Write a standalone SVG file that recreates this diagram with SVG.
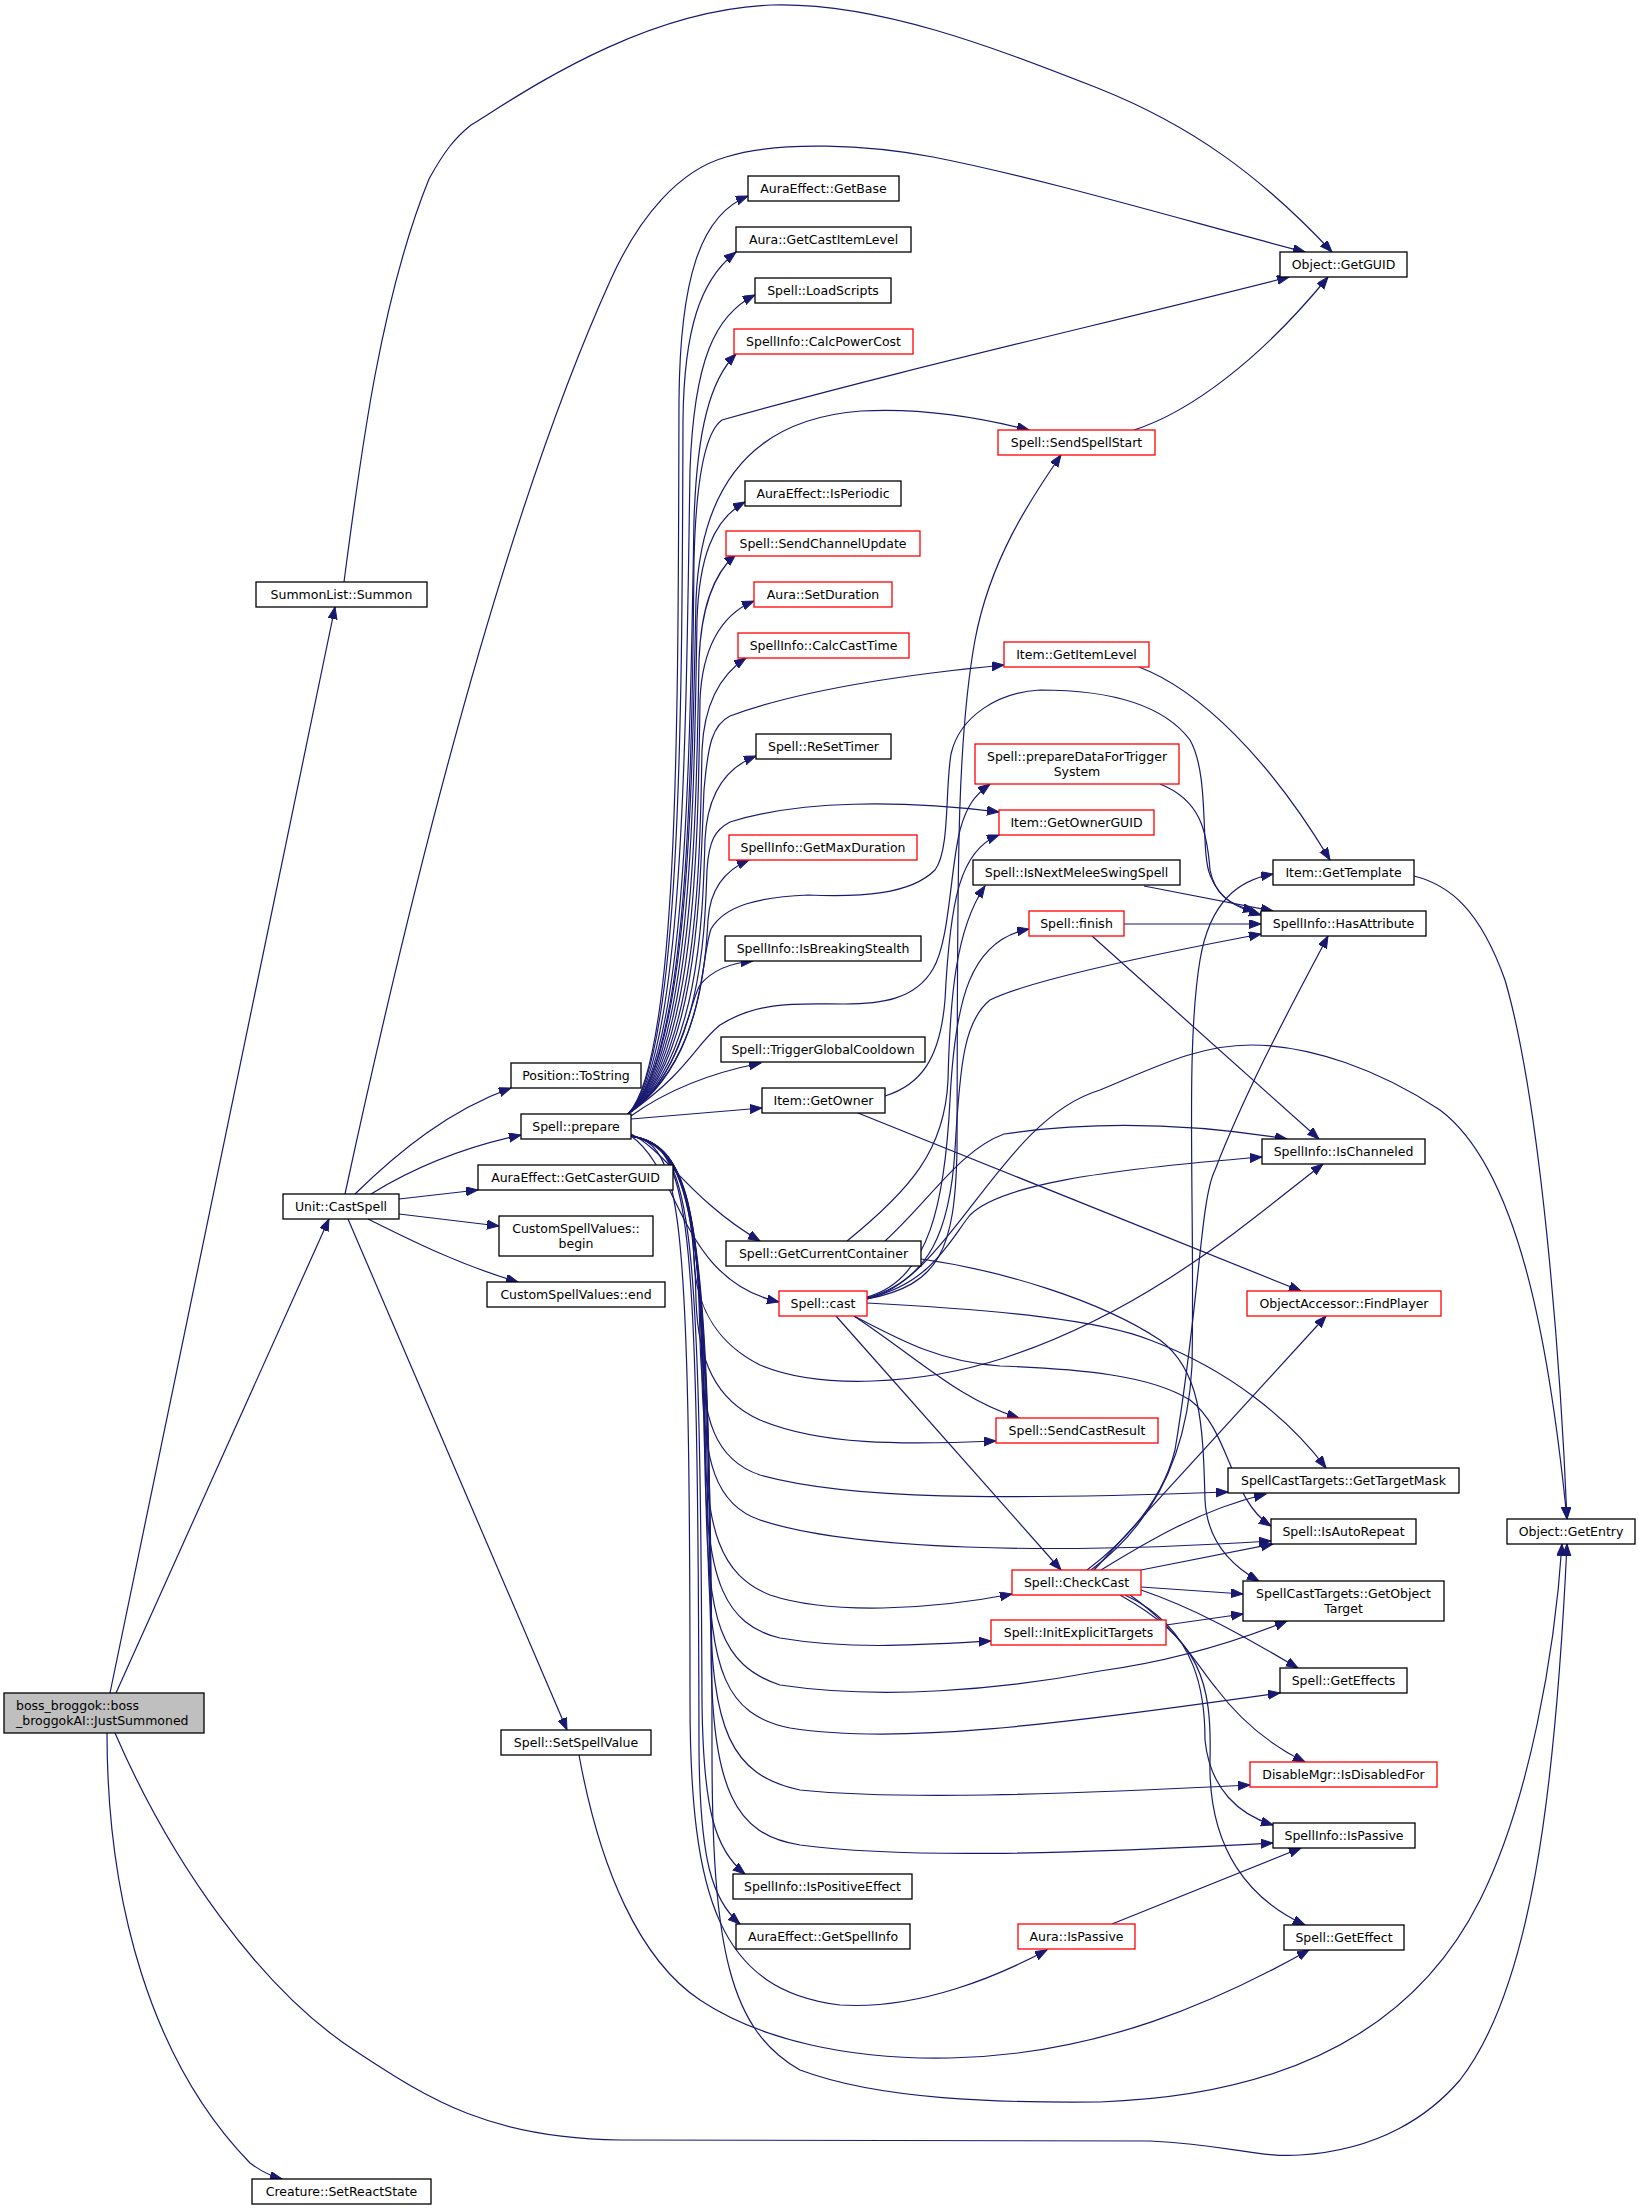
<svg xmlns="http://www.w3.org/2000/svg" width="1639" height="2209" viewBox="0 0 1639 2209">
<style>
.node rect{fill:#fff;stroke:#000;stroke-width:1.3}
.node.red rect{stroke:#ff0000}
.node.root rect{fill:#bfbfbf}
.node text{font-family:"DejaVu Sans","Liberation Sans",sans-serif;font-size:12.5px;fill:#000;text-anchor:middle}
.node.root text{text-anchor:start}
#edges path{fill:none;stroke:#191970;stroke-width:1.2;marker-end:url(#arr)}
</style>
<defs>
<marker id="arr" markerUnits="userSpaceOnUse" markerWidth="13" markerHeight="10" refX="12" refY="4.5" orient="auto" viewBox="0 0 13 10">
<path d="M0,0 L12,4.5 L0,9 z" fill="#191970" stroke="#191970" stroke-width="1"/>
</marker>
</defs>
<rect width="1639" height="2209" fill="#fff"/>
<g id="edges">
<path d="M110,1693 L335,607"/>
<path d="M116,1693 L329,1219"/>
<path d="M107,1733 C107,1900 150,2060 250,2163 C262,2172 270,2176 282,2179"/>
<path d="M115,1733 C170,1860 260,1990 357,2052 C430,2100 490,2138 620,2140 L1150,2141 C1230,2145 1260,2158 1300,2155 C1380,2150 1430,2115 1460,2080 C1530,1990 1555,1800 1567,1544"/>
<path d="M344,582 C360,460 380,300 429,179 C445,150 455,138 471,125 C520,95 640,10 772,5 C880,2 1000,50 1100,89 C1190,125 1260,175 1332,252"/>
<path d="M345,1194 C430,800 520,480 611,279 C640,215 680,170 726,157 C780,140 870,145 933,157 C1050,180 1200,225 1305,252"/>
<path d="M355,1194 C400,1150 450,1110 511,1088"/>
<path d="M371,1194 C410,1170 460,1148 521,1135"/>
<path d="M399,1199 L478,1190"/>
<path d="M399,1214 L499,1226"/>
<path d="M368,1219 C410,1240 460,1265 518,1282"/>
<path d="M348,1219 L567,1730"/>
<path d="M579,1755 C600,1870 640,1960 700,2000 C760,2040 850,2060 950,2058 C1100,2055 1220,2000 1309,1950"/>
<path d="M628,1114 C680,1060 678,700 679,400 C680,280 700,215 748,196"/>
<path d="M628,1114 C682,1060 682,700 683,420 C684,330 700,280 736,252"/>
<path d="M628,1114 C685,1060 686,720 690,470 C694,360 715,315 755,295"/>
<path d="M628,1114 C688,1060 690,740 694,520 C697,430 710,380 736,354"/>
<path d="M628,1114 C690,1060 692,760 694,560 C696,480 705,432 722,420 C900,370 1100,325 1289,277"/>
<path d="M628,1114 C690,1060 692,780 696,600 C700,500 740,420 861,411 C930,407 990,420 1029,430"/>
<path d="M628,1114 C692,1060 694,800 697,620 C699,560 712,520 745,502"/>
<path d="M628,1114 C694,1060 696,820 699,660 C701,610 712,575 736,554"/>
<path d="M628,1114 C696,1060 698,840 700,700 C702,650 720,615 754,601"/>
<path d="M628,1114 C698,1060 700,860 702,750 C704,705 720,675 746,658"/>
<path d="M628,1114 C700,1060 700,880 704,790 C708,745 712,725 730,716 C800,690 900,675 1004,665"/>
<path d="M628,1114 C702,1060 703,900 705,840 C707,795 725,768 756,756"/>
<path d="M628,1114 C704,1060 705,920 707,870 C709,840 715,830 730,822 C800,800 900,800 999,812"/>
<path d="M628,1114 C704,1060 706,950 708,920 C710,890 725,870 749,860"/>
<path d="M628,1114 C705,1060 700,960 711,929 C725,905 760,897 808,895 C860,897 910,895 935,870 C950,850 945,790 951,754 C960,715 1000,692 1040,690 C1100,690 1160,700 1190,740 C1210,775 1200,850 1210,875 C1220,900 1235,907 1261,915"/>
<path d="M628,1114 C690,1070 695,1045 720,1025 C760,1000 800,1004 844,1004 C880,1004 915,1000 933,969 C950,940 950,870 960,830 C967,805 975,795 990,784"/>
<path d="M628,1114 C680,1080 690,1000 700,985 C712,970 730,963 753,961"/>
<path d="M631,1116 C660,1095 700,1075 761,1063"/>
<path d="M631,1119 L762,1108"/>
<path d="M631,1134 C665,1150 690,1200 760,1241"/>
<path d="M631,1136 C680,1170 680,1280 779,1302"/>
<path d="M631,1136 C680,1145 692,1200 694,1260 C696,1310 720,1345 760,1365 C820,1390 920,1385 1004,1358 C1150,1310 1250,1220 1323,1164"/>
<path d="M631,1136 C680,1145 694,1200 696,1300 C698,1360 715,1400 760,1420 C820,1445 900,1445 996,1441"/>
<path d="M631,1136 C682,1145 698,1200 700,1340 C702,1420 715,1460 760,1475 C850,1500 1000,1500 1228,1492"/>
<path d="M631,1136 C684,1145 700,1200 702,1380 C704,1460 715,1505 760,1520 C850,1550 1050,1555 1271,1541"/>
<path d="M631,1136 C684,1145 702,1200 704,1430 C706,1530 720,1575 770,1595 C830,1615 930,1610 1012,1594"/>
<path d="M631,1136 C686,1145 703,1200 705,1470 C707,1580 725,1625 780,1638 C850,1650 920,1645 991,1641"/>
<path d="M631,1136 C686,1145 704,1200 706,1500 C708,1620 720,1665 780,1685 C880,1700 1000,1690 1100,1671 C1180,1660 1240,1640 1287,1621"/>
<path d="M631,1136 C688,1145 706,1200 708,1550 C710,1670 725,1715 790,1728 C900,1745 1050,1725 1280,1693"/>
<path d="M631,1136 C688,1145 708,1200 710,1600 C712,1730 730,1775 800,1790 C900,1800 1050,1795 1250,1785"/>
<path d="M631,1136 C690,1145 710,1200 711,1650 C712,1790 735,1835 800,1845 C900,1858 1050,1855 1273,1843"/>
<path d="M631,1136 C690,1145 700,1200 702,1700 C703,1810 715,1850 745,1874"/>
<path d="M631,1136 C690,1145 698,1200 699,1750 C700,1860 712,1900 740,1924"/>
<path d="M631,1136 C680,1145 690,1200 690,1700 C690,1900 720,1990 840,2005 C920,2010 1000,1975 1047,1950"/>
<path d="M631,1136 C690,1145 712,1200 712,1750 C712,1950 730,2030 800,2070 C880,2100 1000,2103 1100,2102 C1300,2095 1420,2020 1480,1900 C1530,1800 1555,1650 1562,1544"/>
<path d="M1134,430 C1190,412 1260,360 1328,277"/>
<path d="M1139,667 C1200,690 1270,760 1330,860"/>
<path d="M1414,876 C1450,885 1480,910 1505,980 C1540,1100 1560,1350 1567,1519"/>
<path d="M1160,784 C1200,800 1207,830 1210,870 C1215,895 1230,905 1255,911"/>
<path d="M1144,886 L1273,911"/>
<path d="M1124,924 L1261,924"/>
<path d="M1092,936 L1319,1139"/>
<path d="M885,1096 C920,1085 940,1060 945,1000 C950,900 960,850 999,835"/>
<path d="M858,1113 L1301,1291"/>
<path d="M847,1241 C910,1190 945,1150 948,1080 C950,1000 955,930 985,886"/>
<path d="M885,1241 C930,1200 960,1150 1004,1134 C1100,1120 1200,1125 1287,1139"/>
<path d="M921,1259 C1000,1270 1100,1300 1160,1340 C1200,1370 1203,1420 1205,1500 C1207,1540 1230,1565 1259,1581"/>
<path d="M867,1299 C940,1285 955,1250 957,1150 C958,900 955,750 975,640 C990,560 1030,500 1061,455"/>
<path d="M867,1297 C930,1280 945,1200 950,1100 C955,1000 970,940 1029,929"/>
<path d="M867,1298 C930,1280 950,1230 955,1150 C960,1060 965,1020 990,1000 C1030,980 1150,955 1261,934"/>
<path d="M867,1299 C950,1280 1000,1120 1100,1090 C1160,1065 1200,1045 1251,1045 C1310,1045 1380,1070 1440,1110 C1520,1170 1550,1350 1567,1519"/>
<path d="M867,1298 C930,1285 950,1240 970,1215 C1000,1185 1100,1170 1262,1157"/>
<path d="M867,1303 C1000,1310 1100,1320 1150,1340 C1230,1370 1290,1420 1326,1468"/>
<path d="M854,1316 C900,1340 940,1362 1000,1366 C1080,1369 1150,1375 1190,1400 C1230,1430 1230,1500 1271,1526"/>
<path d="M854,1316 C920,1360 960,1400 1019,1418"/>
<path d="M836,1316 L1061,1570"/>
<path d="M1091,1570 C1150,1526 1187,1460 1192,1366 C1195,1200 1185,1050 1200,960 C1210,900 1240,880 1273,874"/>
<path d="M1087,1570 C1140,1530 1165,1490 1175,1450 C1200,1300 1200,1200 1215,1170 C1250,1080 1300,990 1328,936"/>
<path d="M1094,1570 L1326,1316"/>
<path d="M1101,1570 C1150,1540 1200,1510 1266,1494"/>
<path d="M1141,1570 L1273,1544"/>
<path d="M1141,1587 L1243,1594"/>
<path d="M1141,1590 C1200,1610 1250,1640 1298,1668"/>
<path d="M1130,1595 C1180,1630 1200,1670 1216,1688 C1240,1720 1270,1745 1305,1762"/>
<path d="M1125,1595 C1200,1630 1205,1700 1205,1740 C1210,1790 1240,1815 1273,1825"/>
<path d="M1120,1595 C1200,1640 1212,1680 1210,1760 C1208,1850 1250,1900 1305,1925"/>
<path d="M1166,1625 L1243,1614"/>
<path d="M1112,1924 L1301,1848"/>
</g>
<g id="n1" class="node root"><rect x="4" y="1693" width="200" height="40"/><text x="16" y="1710">boss_broggok::boss</text><text x="16" y="1725">_broggokAI::JustSummoned</text></g>
<g id="n2" class="node"><rect x="256" y="582" width="171" height="25"/><text x="341.5" y="599">SummonList::Summon</text></g>
<g id="n3" class="node"><rect x="283" y="1194" width="116" height="25"/><text x="341" y="1211">Unit::CastSpell</text></g>
<g id="n4" class="node"><rect x="252" y="2179" width="179" height="25"/><text x="341.5" y="2196">Creature::SetReactState</text></g>
<g id="n5" class="node"><rect x="1507" y="1519" width="128" height="25"/><text x="1571" y="1536">Object::GetEntry</text></g>
<g id="n6" class="node"><rect x="1280" y="252" width="127" height="25"/><text x="1343.5" y="269">Object::GetGUID</text></g>
<g id="n7" class="node"><rect x="511" y="1063" width="130" height="25"/><text x="576" y="1080">Position::ToString</text></g>
<g id="n8" class="node"><rect x="521" y="1114" width="110" height="25"/><text x="576" y="1131">Spell::prepare</text></g>
<g id="n9" class="node"><rect x="478" y="1165" width="195" height="25"/><text x="575.5" y="1182">AuraEffect::GetCasterGUID</text></g>
<g id="n10" class="node"><rect x="499" y="1216" width="154" height="40"/><text x="576" y="1233">CustomSpellValues::</text><text x="576" y="1248">begin</text></g>
<g id="n11" class="node"><rect x="487" y="1282" width="178" height="25"/><text x="576" y="1299">CustomSpellValues::end</text></g>
<g id="n12" class="node"><rect x="501" y="1730" width="150" height="25"/><text x="576" y="1747">Spell::SetSpellValue</text></g>
<g id="n13" class="node"><rect x="748" y="176" width="151" height="25"/><text x="823.5" y="193">AuraEffect::GetBase</text></g>
<g id="n14" class="node"><rect x="736" y="227" width="175" height="25"/><text x="823.5" y="244">Aura::GetCastItemLevel</text></g>
<g id="n15" class="node"><rect x="755" y="278" width="136" height="25"/><text x="823" y="295">Spell::LoadScripts</text></g>
<g id="n16" class="node red"><rect x="734" y="329" width="179" height="25"/><text x="823.5" y="346">SpellInfo::CalcPowerCost</text></g>
<g id="n17" class="node red"><rect x="998" y="430" width="157" height="25"/><text x="1076.5" y="447">Spell::SendSpellStart</text></g>
<g id="n18" class="node"><rect x="745" y="481" width="156" height="25"/><text x="823" y="498">AuraEffect::IsPeriodic</text></g>
<g id="n19" class="node red"><rect x="726" y="531" width="194" height="25"/><text x="823" y="548">Spell::SendChannelUpdate</text></g>
<g id="n20" class="node red"><rect x="754" y="582" width="138" height="25"/><text x="823" y="599">Aura::SetDuration</text></g>
<g id="n21" class="node red"><rect x="738" y="633" width="171" height="25"/><text x="823.5" y="650">SpellInfo::CalcCastTime</text></g>
<g id="n22" class="node red"><rect x="1004" y="642" width="145" height="25"/><text x="1076.5" y="659">Item::GetItemLevel</text></g>
<g id="n23" class="node"><rect x="756" y="734" width="135" height="25"/><text x="823.5" y="751">Spell::ReSetTimer</text></g>
<g id="n24" class="node red"><rect x="975" y="744" width="204" height="40"/><text x="1077" y="761">Spell::prepareDataForTrigger</text><text x="1077" y="776">System</text></g>
<g id="n25" class="node red"><rect x="999" y="810" width="155" height="25"/><text x="1076.5" y="827">Item::GetOwnerGUID</text></g>
<g id="n26" class="node red"><rect x="729" y="835" width="188" height="25"/><text x="823" y="852">SpellInfo::GetMaxDuration</text></g>
<g id="n27" class="node"><rect x="973" y="860" width="207" height="25"/><text x="1076.5" y="877">Spell::IsNextMeleeSwingSpell</text></g>
<g id="n28" class="node red"><rect x="1029" y="911" width="95" height="25"/><text x="1076.5" y="928">Spell::finish</text></g>
<g id="n29" class="node"><rect x="725" y="936" width="196" height="25"/><text x="823" y="953">SpellInfo::IsBreakingStealth</text></g>
<g id="n30" class="node"><rect x="721" y="1037" width="204" height="25"/><text x="823" y="1054">Spell::TriggerGlobalCooldown</text></g>
<g id="n31" class="node"><rect x="762" y="1088" width="123" height="25"/><text x="823.5" y="1105">Item::GetOwner</text></g>
<g id="n32" class="node"><rect x="726" y="1241" width="195" height="25"/><text x="823.5" y="1258">Spell::GetCurrentContainer</text></g>
<g id="n33" class="node red"><rect x="779" y="1291" width="88" height="25"/><text x="823" y="1308">Spell::cast</text></g>
<g id="n34" class="node red"><rect x="996" y="1418" width="162" height="25"/><text x="1077" y="1435">Spell::SendCastResult</text></g>
<g id="n35" class="node red"><rect x="1012" y="1570" width="129" height="25"/><text x="1076.5" y="1587">Spell::CheckCast</text></g>
<g id="n36" class="node red"><rect x="991" y="1620" width="175" height="25"/><text x="1078.5" y="1637">Spell::InitExplicitTargets</text></g>
<g id="n37" class="node"><rect x="733" y="1874" width="179" height="25"/><text x="822.5" y="1891">SpellInfo::IsPositiveEffect</text></g>
<g id="n38" class="node"><rect x="736" y="1924" width="174" height="25"/><text x="823" y="1941">AuraEffect::GetSpellInfo</text></g>
<g id="n39" class="node red"><rect x="1018" y="1924" width="117" height="25"/><text x="1076.5" y="1941">Aura::IsPassive</text></g>
<g id="n40" class="node"><rect x="1273" y="860" width="141" height="25"/><text x="1343.5" y="877">Item::GetTemplate</text></g>
<g id="n41" class="node"><rect x="1261" y="911" width="165" height="25"/><text x="1343.5" y="928">SpellInfo::HasAttribute</text></g>
<g id="n42" class="node"><rect x="1262" y="1139" width="163" height="25"/><text x="1343.5" y="1156">SpellInfo::IsChanneled</text></g>
<g id="n43" class="node red"><rect x="1247" y="1291" width="194" height="25"/><text x="1344" y="1308">ObjectAccessor::FindPlayer</text></g>
<g id="n44" class="node"><rect x="1228" y="1468" width="231" height="25"/><text x="1343.5" y="1485">SpellCastTargets::GetTargetMask</text></g>
<g id="n45" class="node"><rect x="1271" y="1519" width="145" height="25"/><text x="1343.5" y="1536">Spell::IsAutoRepeat</text></g>
<g id="n46" class="node"><rect x="1243" y="1581" width="201" height="40"/><text x="1343.5" y="1598">SpellCastTargets::GetObject</text><text x="1343.5" y="1613">Target</text></g>
<g id="n47" class="node"><rect x="1280" y="1668" width="127" height="25"/><text x="1343.5" y="1685">Spell::GetEffects</text></g>
<g id="n48" class="node red"><rect x="1250" y="1762" width="187" height="25"/><text x="1343.5" y="1779">DisableMgr::IsDisabledFor</text></g>
<g id="n49" class="node"><rect x="1273" y="1823" width="142" height="25"/><text x="1344" y="1840">SpellInfo::IsPassive</text></g>
<g id="n50" class="node"><rect x="1284" y="1925" width="120" height="25"/><text x="1344" y="1942">Spell::GetEffect</text></g>
</svg>
